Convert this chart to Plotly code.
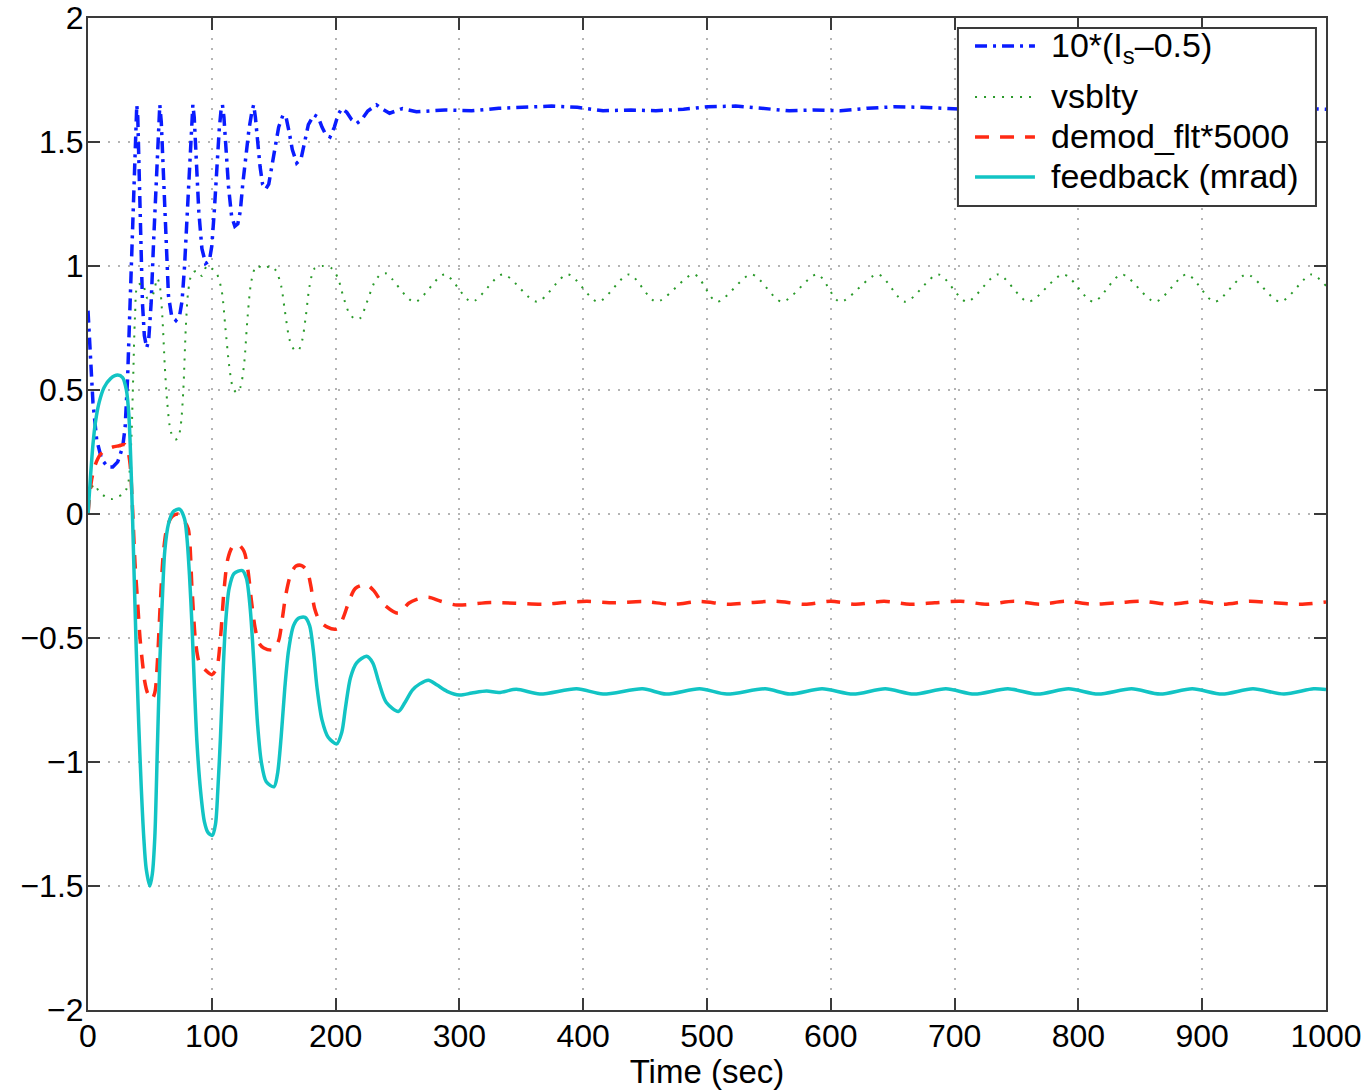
import plotly.graph_objects as go

# ---- simulation traces (time in seconds) ----
t_intensity = [0, 2, 4, 7, 11, 16, 20, 24, 28, 30, 32, 34, 36, 37.5, 38.6, 39.4, 40.2, 41.2, 42.5, 44,
               45.5, 47.4, 49, 51, 53, 55, 56.8, 58, 59.2, 61, 63, 65, 67.5, 71, 74, 76, 78, 80, 82, 83.7,
               84.7, 85.8, 87.5, 89.5, 92, 95, 98, 100, 102, 104, 106, 107.5, 108.6, 109.8, 111.5, 113.5,
               116, 118.6, 121, 123, 125, 127.5, 130, 132.3, 133.8, 135.2, 137, 139, 141, 143.5, 146,
               148.5, 151, 154, 157.6, 160, 162.5, 165, 168.6, 172, 175, 178, 182.5, 186, 189, 192, 195.5,
               199, 202, 205, 209, 213, 217, 221, 226, 233, 237, 243.6, 254, 265.3, 288.4, 310, 331.8,
               353.5, 374.5, 395.2, 416, 438.6, 458.7, 481, 500.5, 523, 543.8, 566.4, 585.6, 607.8, 629.6,
               651.2, 672.9, 693.9, 715, 737, 758, 780, 802, 823, 845, 866, 888, 910, 931, 952, 974, 1000]
intensity = [0.82, 0.6, 0.45, 0.3, 0.22, 0.19, 0.19, 0.21, 0.27, 0.35, 0.55, 0.85, 1.15, 1.45, 1.6, 1.65,
             1.6, 1.4, 1.1, 0.85, 0.72, 0.67, 0.7, 0.85, 1.1, 1.35, 1.55, 1.65, 1.58, 1.35, 1.05, 0.88, 0.8,
             0.78, 0.8, 0.86, 1.0, 1.2, 1.42, 1.6, 1.65, 1.6, 1.42, 1.22, 1.07, 1.01, 1.02, 1.08, 1.22, 1.4,
             1.55, 1.63, 1.65, 1.6, 1.47, 1.32, 1.2, 1.16, 1.17, 1.22, 1.33, 1.45, 1.55, 1.62, 1.65, 1.6,
             1.5, 1.4, 1.33, 1.31, 1.33, 1.4, 1.48, 1.56, 1.61, 1.6, 1.54, 1.47, 1.415, 1.43, 1.5, 1.57,
             1.61, 1.6, 1.56, 1.53, 1.52, 1.56, 1.61, 1.635, 1.62, 1.59, 1.575, 1.59, 1.625, 1.65, 1.635,
             1.616, 1.635, 1.622, 1.629, 1.626, 1.636, 1.64, 1.645, 1.64, 1.626, 1.629, 1.626, 1.632,
             1.642, 1.645, 1.636, 1.626, 1.629, 1.626, 1.636, 1.642, 1.64, 1.636, 1.629, 1.626, 1.632,
             1.642, 1.645, 1.636, 1.626, 1.629, 1.626, 1.636, 1.642, 1.64, 1.636, 1.632]

t_vis = [0, 2, 5, 9, 14, 19, 24, 28, 31, 33, 35, 36.5, 38, 40, 44, 48, 52, 56, 58, 60, 62, 64, 67, 70.5,
         73, 75, 77, 79, 81, 84, 88, 92, 96, 100, 104, 108, 111, 114, 117, 120, 123, 126, 129, 132, 136,
         142, 148, 152, 156, 159, 163, 167, 170, 173, 176, 179, 183, 190, 197, 202, 206, 211, 216, 220,
         225, 231, 236, 241, 263.7, 288, 310, 335, 362.7, 387.5, 412, 437, 459, 489.5, 508, 536, 560.6,
         589, 607.4, 638, 660, 686.8, 709.8, 735, 759.5, 788, 812, 835, 862, 887.5, 910, 936, 963, 988,
         1000]
vis = [0.0, 0.09, 0.12, 0.09, 0.07, 0.06, 0.07, 0.08, 0.1, 0.14, 0.3, 0.55, 0.8, 0.92, 0.93, 0.87, 0.88,
       0.95, 0.92, 0.8, 0.6, 0.45, 0.33, 0.30, 0.31, 0.36, 0.5, 0.75, 0.9, 0.97, 0.98, 0.96, 1.0, 0.99,
       0.97, 0.9, 0.75, 0.6, 0.51, 0.49, 0.51, 0.6, 0.8, 0.94, 1.0, 0.99, 1.0, 0.98, 0.92, 0.82, 0.7,
       0.66, 0.66, 0.7, 0.8, 0.92, 0.99, 1.0, 0.99, 0.95, 0.88, 0.81, 0.785, 0.79, 0.85, 0.93, 0.965,
       0.97, 0.855, 0.966, 0.856, 0.966, 0.856, 0.966, 0.856, 0.966, 0.856, 0.966, 0.856, 0.966, 0.856,
       0.966, 0.856, 0.966, 0.856, 0.966, 0.856, 0.966, 0.856, 0.966, 0.856, 0.966, 0.856, 0.966, 0.856,
       0.966, 0.856, 0.966, 0.92]

t_demod = [0, 3, 6, 10, 15, 20, 25, 30, 32, 34, 36, 38, 40, 42, 44, 46, 48, 51.4, 54, 56, 58.5, 61, 64,
           68, 73, 78, 81, 84, 87, 90, 95, 100, 104, 107, 110, 113, 117, 121.4, 126, 129, 132, 135, 138,
           142, 149.7, 154, 157, 160, 164, 168, 172.6, 177, 180, 183, 187, 193, 200.9, 206, 211, 216, 225,
           231, 238, 250.7, 259, 265, 275, 285, 298, 325, 345, 367, 385, 403, 425, 448, 472, 494, 517, 536,
           556, 579, 600, 620, 643, 664, 684, 705, 726, 748, 769, 790, 811, 832, 852, 874, 897, 917, 938,
           958, 979, 1000]
demod = [0.0, 0.14, 0.2, 0.24, 0.26, 0.27, 0.275, 0.28, 0.26, 0.2, 0.02, -0.2, -0.35, -0.5, -0.6, -0.68,
         -0.72, -0.748, -0.72, -0.6, -0.35, -0.15, -0.05, -0.01, 0.0, -0.03, -0.06, -0.3, -0.52, -0.6,
         -0.63, -0.648, -0.62, -0.5, -0.3, -0.18, -0.13, -0.123, -0.15, -0.22, -0.35, -0.46, -0.52, -0.54,
         -0.548, -0.51, -0.42, -0.32, -0.24, -0.21, -0.208, -0.23, -0.29, -0.38, -0.43, -0.455, -0.463,
         -0.42, -0.35, -0.3, -0.285, -0.31, -0.36, -0.40, -0.36, -0.345, -0.336, -0.352, -0.367, -0.357,
         -0.36, -0.364, -0.357, -0.352, -0.358, -0.353, -0.364, -0.353, -0.364, -0.357, -0.352, -0.364,
         -0.352, -0.364, -0.352, -0.364, -0.358, -0.352, -0.364, -0.352, -0.364, -0.352, -0.364, -0.358,
         -0.352, -0.364, -0.352, -0.364, -0.352, -0.358, -0.364, -0.355]

t_feedback = [0, 2, 4, 6, 9, 13, 18, 24, 28, 31, 33, 35, 37, 39, 41, 43, 45, 47, 50, 52, 54, 56, 58, 60,
              62, 65, 69, 74, 78, 80, 82, 84, 86, 88, 91, 94, 97, 100.4, 103, 105, 107, 109, 111, 114, 118,
              124.7, 128, 131, 134, 137, 140, 144, 150.2, 153, 156, 159, 162, 166, 170, 175.3, 179, 182,
              185, 189, 194, 200.9, 205, 208, 212, 217, 225, 230, 235, 241, 250.7, 256, 262, 268, 275, 282,
              290, 300, 310, 322, 332, 346, 365, 394.7, 416, 448, 467, 494, 516, 547, 567, 593, 618, 644,
              667, 693, 716, 743, 767, 792, 816, 843, 866, 892, 916, 941, 966, 990, 1000]
feedback = [0.0, 0.15, 0.28, 0.37, 0.45, 0.51, 0.545, 0.56, 0.55, 0.5, 0.4, 0.15, -0.2, -0.55, -0.85,
            -1.1, -1.3, -1.43, -1.5, -1.45, -1.3, -0.95, -0.6, -0.35, -0.15, -0.04, 0.01, 0.02, -0.02,
            -0.1, -0.25, -0.45, -0.7, -0.92, -1.12, -1.24, -1.285, -1.296, -1.25, -1.1, -0.9, -0.65, -0.45,
            -0.3, -0.24, -0.228, -0.26, -0.38, -0.6, -0.85, -1.0, -1.08, -1.1, -1.05, -0.9, -0.7, -0.55,
            -0.45, -0.42, -0.417, -0.45, -0.55, -0.7, -0.83, -0.9, -0.927, -0.88, -0.78, -0.66, -0.6,
            -0.574, -0.6, -0.68, -0.76, -0.796, -0.76, -0.71, -0.685, -0.67, -0.69, -0.715, -0.73, -0.722,
            -0.714, -0.72, -0.707, -0.726, -0.705, -0.726, -0.705, -0.726, -0.705, -0.726, -0.705, -0.726,
            -0.705, -0.726, -0.705, -0.726, -0.705, -0.726, -0.705, -0.726, -0.705, -0.726, -0.705, -0.726,
            -0.705, -0.726, -0.705, -0.726, -0.705, -0.708]

series_names = ["10*(I<sub>s</sub>\u20130.5)", "vsblty", "demod_flt*5000", "feedback (mrad)"]

# ---- axes ----
x_ticks = [0, 100, 200, 300, 400, 500, 600, 700, 800, 900, 1000]
x_tick_text = ["0", "100", "200", "300", "400", "500", "600", "700", "800", "900", "1000"]
y_ticks = [-2, -1.5, -1, -0.5, 0, 0.5, 1, 1.5, 2]
y_tick_text = ["\u22122", "\u22121.5", "\u22121", "\u22120.5", "0", "0.5", "1", "1.5", "2"]

FONT = "Liberation Sans, Arial, Helvetica, sans-serif"
AXIS_COLOR = "#3a3a3a"
GRID_COLOR = "#b4b4b4"

styles = [
    dict(color="#0a1cff", width=3.5, dash="12px,6px,3px,6px"),
    dict(color="#2a9a2a", width=2, dash="2px,7px"),
    dict(color="#ff2a14", width=3.5, dash="14px,11px"),
    dict(color="#12c4c4", width=3.5),
]
series = [(t_intensity, intensity), (t_vis, vis), (t_demod, demod), (t_feedback, feedback)]

fig = go.Figure()
for i, ((tx, vy), name, st) in enumerate(zip(series, series_names, styles)):
    line = dict(st)
    if i > 0:
        line.update(shape="spline", smoothing=0.8)
    fig.add_trace(go.Scatter(x=tx, y=vy, mode="lines", name=name, line=line, showlegend=False))

axis_common = dict(
    showline=True, linecolor=AXIS_COLOR, linewidth=2, mirror="ticks",
    ticks="inside", ticklen=12, tickwidth=2, tickcolor=AXIS_COLOR,
    showgrid=True, gridcolor=GRID_COLOR, gridwidth=1.5, griddash="2px,8px",
    zeroline=False, automargin=False, ticklabeloverflow="allow",
    tickfont=dict(family=FONT, size=32, color="#000000"),
)

fig.update_xaxes(
    range=[0, 1000], tickmode="array", tickvals=x_ticks, ticktext=x_tick_text,
    ticklabelstandoff=-3,
    title=dict(text="Time (sec)", font=dict(family=FONT, size=33, color="#000000"), standoff=3),
    **axis_common,
)
fig.update_yaxes(
    range=[-2, 2], tickmode="array", tickvals=y_ticks, ticktext=y_tick_text,
    ticklabelstandoff=-4,
    **axis_common,
)

# ---- legend box drawn in paper coordinates ----
leg_x0, leg_x1, leg_y0, leg_y1 = 0.7027, 0.9919, 0.8105, 0.9899
sample_x0, sample_x1 = 0.7165, 0.7649
text_x = 0.7765
row_y = [0.9718, 0.9204, 0.8800, 0.8397]
text_y = [0.9700, 0.9214, 0.8810, 0.8407]

shapes = [dict(type="rect", xref="paper", yref="paper", x0=leg_x0, x1=leg_x1, y0=leg_y0, y1=leg_y1,
               fillcolor="#ffffff", line=dict(color=AXIS_COLOR, width=2), layer="above")]
annotations = []
for st, ry, ty, name in zip(styles, row_y, text_y, series_names):
    shapes.append(dict(type="line", xref="paper", yref="paper", x0=sample_x0, x1=sample_x1, y0=ry, y1=ry,
                       line=dict(color=st["color"], width=st["width"], dash=st.get("dash", "solid")),
                       layer="above"))
    annotations.append(dict(xref="paper", yref="paper", x=text_x, y=ty, xanchor="left", yanchor="middle",
                            text=name, showarrow=False,
                            font=dict(family=FONT, size=34, color="#000000")))

fig.update_layout(
    width=1370, height=1090,
    margin=dict(l=88, r=44, t=18, b=80),
    paper_bgcolor="#ffffff", plot_bgcolor="#ffffff",
    font=dict(family=FONT, size=33, color="#000000"),
    showlegend=False,
    shapes=shapes,
    annotations=annotations,
)

fig.write_html("out.html")
